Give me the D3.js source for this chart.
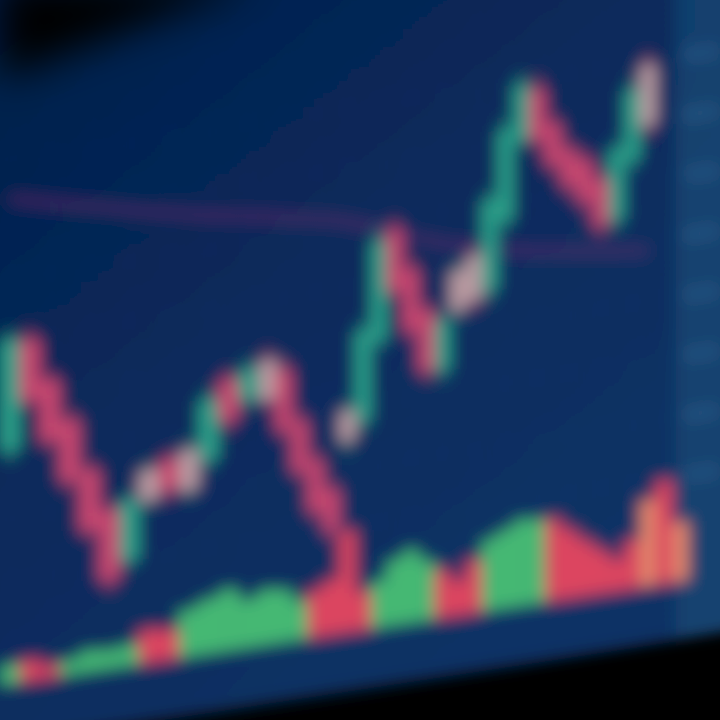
<!DOCTYPE html>
<html><head><meta charset="utf-8">
<script src="https://cdn.jsdelivr.net/npm/d3@7"></script>
<style>html,body{margin:0;padding:0;background:#000;}svg{display:block;}</style>
</head><body>
<svg id="chart" width="720" height="720"></svg>
<script>
// ---- data ----
const opens  = [41.3,59.2,52.0,44.8,36.0,28.8,20.0,29.5,35.7,30.2,34.7,47.5,43.7,49.8,47.7,38.8,31.8,26.5,34.3,37.2,50.2,68.2,61.2,54.0,43.7,53.2,62.0,55.8,67.0,80.0,88.0,81.8,77.2,75.0,71.3,64.3,73.8,89.3];
const closes = [59.7,49.2,42.0,34.8,26.0,17.2,30.0,34.5,30.7,36.8,44.7,40.8,48.7,43.2,37.7,30.5,23.5,19.8,39.3,52.2,66.8,58.2,51.2,44.0,52.0,59.8,54.5,70.8,82.0,89.2,79.7,75.2,71.3,68.3,63.8,76.0,85.5,79.3];
const highs  = [61.5,61.0,53.5,46.5,37.5,30.5,31.5,36.0,37.0,38.5,46.5,49.0,50.5,51.5,49.5,40.5,33.5,28.0,41.0,54.0,69.0,70.0,63.0,55.5,54.0,61.5,63.5,72.5,84.0,91.0,90.0,83.5,78.5,76.5,73.0,77.5,87.5,91.0];
const lows   = [39.5,47.5,40.5,33.0,24.5,15.5,18.5,28.0,29.0,28.5,33.0,39.0,42.0,41.5,36.0,29.0,22.0,18.0,32.5,35.5,48.5,56.5,49.5,42.5,42.0,51.5,53.0,54.0,65.5,78.5,78.0,73.5,69.5,66.5,62.0,62.5,72.0,77.5];
const highlighted = [7,9,13,18,25,26,37]; // candles that show a pale, washed-out body in the photo
const maLine = [83.3,82.5,81.6,80.8,80.0,79.2,78.4,77.6,76.9,76.2,75.5,74.9,74.3,73.7,73.1,72.6,72.1,71.6,70.8,69.9,68.9,67.8,66.8,65.8,64.9,64.1,63.4,62.7,62.1,61.6,61.1,60.7,60.3,59.9,59.5,59.1,58.7,58.4];
const volumes   = [18,20,12,14,20,18,20,32,29,46,53,60,47,54,51,38,46,54,101,38,46,64,72,59,47,34,52,70,77,85,83,81,68,55,43,31,48,86,103,59];
const volColors = ["g","r","r","g","g","g","g","r","r","g","g","g","g","g","g","g","r","r","r","r","g","g","g","g","r","r","r","g","g","g","g","r","r","r","r","r","r","o","r","o"];
const priceTicks = [20,30,40,50,60,70,80,90];

// ---- layout ----
const svg = d3.select("#chart");
const defs = svg.append("defs");
defs.append("filter").attr("id","blur").attr("x","-20%").attr("y","-20%").attr("width","140%").attr("height","140%")
  .append("feGaussianBlur").attr("stdDeviation",8);
defs.append("filter").attr("id","blurBig").attr("x","-50%").attr("y","-50%").attr("width","200%").attr("height","200%")
  .append("feGaussianBlur").attr("stdDeviation",20);
const bg = defs.append("linearGradient").attr("id","bg").attr("x1","0").attr("y1","0").attr("x2","0.6").attr("y2","1");
bg.append("stop").attr("offset","0").attr("stop-color","#041c46");
bg.append("stop").attr("offset","0.5").attr("stop-color","#07295a");
bg.append("stop").attr("offset","1").attr("stop-color","#0a3265");

const root = svg.append("g").attr("filter","url(#blur)");
// skewed "screen" frame (photo taken at an angle)
const g = root.append("g").attr("transform","skewY(-8.7)");

const n = volumes.length;
// perspective: slots get narrower toward the right
const x = d3.scaleLinear().domain([0,13,37]).range([10,268,648]);
const slot = i => x(i+0.5) - x(i-0.5);
const y = d3.scaleLinear().domain([0,100]).range([700,100]);
const yv = d3.scaleLinear().domain([0,100]).range([685,585]);

// screen background
g.append("rect").attr("x",-20).attr("y",-80).attr("width",780).attr("height",825).attr("fill","url(#bg)");

// grid
const gridX = d3.range(0, n, 2);
g.append("g").selectAll("line").data(gridX).join("line")
  .attr("x1",i=>x(i)).attr("x2",i=>x(i))
  .attr("y1",-60).attr("y2",740).attr("stroke","#2a5d9a").attr("stroke-width",1).attr("stroke-dasharray","2,4").attr("opacity",0.45);
g.append("g").selectAll("line").data(priceTicks).join("line")
  .attr("x1",0).attr("x2",675).attr("y1",d=>y(d)).attr("y2",d=>y(d))
  .attr("stroke","#2a5d9a").attr("stroke-width",1).attr("stroke-dasharray","2,4").attr("opacity",0.45);

// right price-axis band
g.append("rect").attr("x",676).attr("y",-80).attr("width",64).attr("height",825).attr("fill","#164a74").attr("opacity",0.75);
const axis = g.append("g").attr("transform","translate(682,0)")
  .call(d3.axisRight(y).tickValues(priceTicks).tickSize(0).tickFormat(d=>d.toFixed(2)));
axis.select(".domain").remove();
axis.selectAll("text").attr("fill","#4f86b8").attr("font-family","DejaVu Sans").attr("font-size",11);

// moving average
g.append("path").datum(maLine)
  .attr("d", d3.line().x((d,i)=>x(i)).y(d=>y(d)).curve(d3.curveMonotoneX))
  .attr("fill","none").attr("stroke","#6e2a72").attr("stroke-width",7).attr("opacity",0.6);

// volume bars
const vcol = {g:"#45b873", r:"#dc4460", o:"#e0866a"};
g.append("g").selectAll("rect").data(volumes).join("rect")
  .attr("x",(d,i)=>x(i-0.5)).attr("width",(d,i)=>slot(i)+0.5)
  .attr("y",d=>yv(d)).attr("height",d=>yv(0)-yv(d))
  .attr("fill",(d,i)=>vcol[volColors[i]]);

// candles
const candles = d3.range(opens.length);
const up = "#2b9f88", down = "#c8466f", pale = "#b89aa0";
const col = i => highlighted.includes(i) ? pale : (closes[i]>=opens[i]?up:down);
const cg = g.append("g");
cg.selectAll("line").data(candles).join("line")
  .attr("x1",i=>x(i)).attr("x2",i=>x(i))
  .attr("y1",i=>y(highs[i])).attr("y2",i=>y(lows[i]))
  .attr("stroke",i=>closes[i]>=opens[i]?up:down).attr("stroke-width",3);
cg.selectAll("rect").data(candles).join("rect")
  .attr("x",i=>x(i)-slot(i)*0.5).attr("width",i=>slot(i))
  .attr("y",i=>y(Math.max(opens[i],closes[i])))
  .attr("height",i=>Math.abs(y(opens[i])-y(closes[i])))
  .attr("fill",col);

// photo vignette: dark corners outside the screen
svg.append("path").attr("d","M0,-20 L260,-20 L140,25 L0,80 Z").attr("fill","#000").attr("filter","url(#blurBig)");
svg.append("path").attr("d","M230,740 L740,635 L740,740 Z").attr("fill","#000").attr("filter","url(#blur)");
</script>
</body></html>
